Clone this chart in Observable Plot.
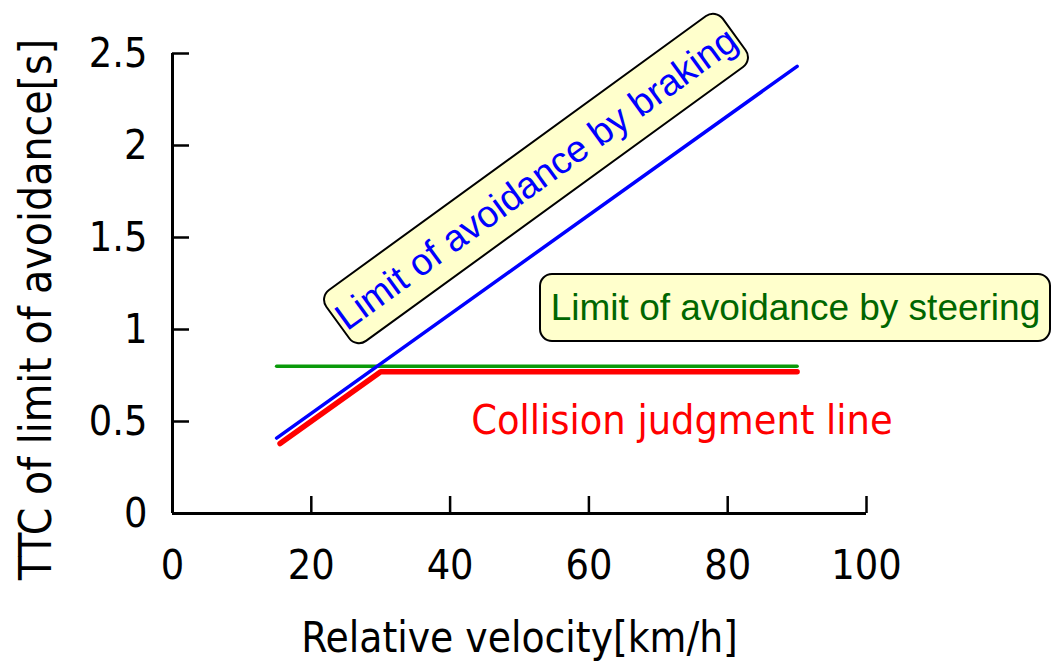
<!DOCTYPE html>
<html>
<head>
<meta charset="utf-8">
<script src="https://cdn.jsdelivr.net/npm/d3@7"></script>
<script src="https://cdn.jsdelivr.net/npm/@observablehq/plot@0.6"></script>
<style>
  html, body { margin: 0; padding: 0; background: #ffffff; }
  #chart { width: 1051px; height: 665px; overflow: hidden; }
</style>
</head>
<body>
<div id="chart"></div>
<script>
// ---- data ----
const velocityTicks = [0, 20, 40, 60, 80, 100];
const ttcTicks = [0, 0.5, 1, 1.5, 2, 2.5];

const brakingVelocity = [15, 90];
const brakingTTC = [0.41, 2.43];

const steeringVelocity = [15, 90];
const steeringTTC = [0.8, 0.8];

const judgmentVelocity = [15.5, 30, 90];
const judgmentTTC = [0.38, 0.77, 0.77];

const xTitle = "Relative velocity[km/h]";
const yTitle = "TTC of limit of avoidance[s]";
const brakingLabel = "Limit of avoidance by braking";
const steeringLabel = "Limit of avoidance by steering";
const judgmentLabel = "Collision judgment line";

// ---- build tables ----
const toRows = (xs, ys) => xs.map((v, i) => ({v, t: ys[i]}));
const braking = toRows(brakingVelocity, brakingTTC);
const steering = toRows(steeringVelocity, steeringTTC);
const judgment = toRows(judgmentVelocity, judgmentTTC);

// annotation placement (style, not data)
const tahoma = "'DejaVu Sans Condensed', 'DejaVu Sans', sans-serif";
const arial = "'Liberation Sans', Arial, sans-serif";
const notes = {
  braking: {x: 52.45, y: 1.818, rotate: -36, w: 490, h: 63},
  steering: {x: 89.77, y: 1.117, rotate: 0, w: 510, h: 67},
  judgment: {x: 73.4, y: 0.505}
};

function labelBoxes(index, scales) {
  const g = d3.create("svg:g");
  for (const b of [notes.braking, notes.steering]) {
    g.append("rect")
      .attr("transform", `translate(${scales.x(b.x)},${scales.y(b.y)}) rotate(${b.rotate})`)
      .attr("x", -b.w / 2).attr("y", -b.h / 2)
      .attr("width", b.w).attr("height", b.h)
      .attr("rx", 12).attr("ry", 12)
      .attr("fill", "#ffffcc").attr("stroke", "#000").attr("stroke-width", 2);
  }
  return g.node();
}

const chart = Plot.plot({
  width: 1051,
  height: 665,
  marginLeft: 172,
  marginRight: 185,
  marginTop: 53,
  marginBottom: 152,
  x: {domain: [0, 100]},
  y: {domain: [0, 2.5]},
  style: {background: "#ffffff", color: "#000", fontFamily: tahoma, overflow: "visible"},
  marks: [
    Plot.axisX({ticks: velocityTicks, tickSize: -17, tickPadding: 53, strokeWidth: 2.5,
      fontSize: 41, fontFamily: tahoma, label: null, tickFormat: d => `${d}`}),
    Plot.axisY({ticks: ttcTicks, tickSize: -17, tickPadding: 42, strokeWidth: 2.5,
      fontSize: 41, fontFamily: tahoma, label: null, tickFormat: d => `${d}`}),
    Plot.ruleY([0], {x1: 0, x2: 100, stroke: "#000", strokeWidth: 3}),
    Plot.ruleX([0], {y1: 0, y2: 2.5, stroke: "#000", strokeWidth: 3}),
    Plot.text([xTitle], {text: d => d, frameAnchor: "bottom", dy: 125, lineAnchor: "middle",
      textAnchor: "middle", fontSize: 42, fontFamily: tahoma, fill: "#000"}),
    Plot.text([yTitle], {text: d => d, frameAnchor: "left", dx: -136, dy: 26, rotate: -90,
      textAnchor: "middle", lineAnchor: "middle", fontSize: 44, fontFamily: tahoma, fill: "#000"}),
    Plot.line(steering, {x: "v", y: "t", stroke: "#0a9a0a", strokeWidth: 3.5}),
    Plot.line(judgment, {x: "v", y: "t", stroke: "#ff0000", strokeWidth: 5.5, strokeLinejoin: "miter"}),
    Plot.line(braking, {x: "v", y: "t", stroke: "#0000ff", strokeWidth: 3.5}),
    labelBoxes,
    Plot.text([brakingLabel], {text: d => d, x: () => notes.braking.x, y: () => notes.braking.y,
      rotate: notes.braking.rotate, fontSize: 37.5, fontFamily: arial, fill: "#0000ff", lineAnchor: "middle"}),
    Plot.text([steeringLabel], {text: d => d, x: () => notes.steering.x, y: () => notes.steering.y,
      fontSize: 37, fontFamily: arial, fill: "#006600", lineAnchor: "middle"}),
    Plot.text([judgmentLabel], {text: d => d, x: () => notes.judgment.x, y: () => notes.judgment.y,
      fontSize: 41, fontFamily: tahoma, fill: "#ff0000", lineAnchor: "middle"})
  ]
});
document.getElementById("chart").append(chart);
</script>
</body>
</html>
